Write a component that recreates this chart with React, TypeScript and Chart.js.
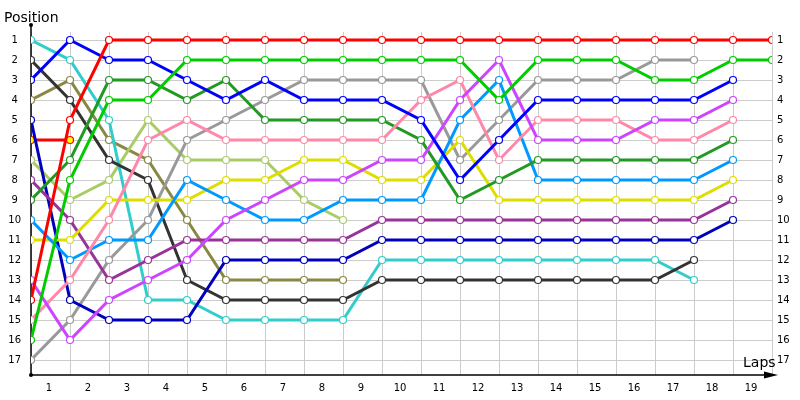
import React, { useEffect, useRef } from "react";
import { Chart, registerables } from "chart.js";

Chart.register(...registerables);

// ---- Data ----
const lapTickLabels = ["1", "2", "3", "4", "5", "6", "7", "8", "9", "10", "11", "12", "13", "14", "15", "16", "17", "18", "19"];
const positionTickLabels = ["1", "2", "3", "4", "5", "6", "7", "8", "9", "10", "11", "12", "13", "14", "15", "16", "17"];
const xTitle = "Laps";
const yTitle = "Position";

// positions per lap, starting at lap 0 (grid)
const redDriver = [14, 5, 1, 1, 1, 1, 1, 1, 1, 1, 1, 1, 1, 1, 1, 1, 1, 1, 1, 1];
const greenDriver = [16, 8, 4, 4, 2, 2, 2, 2, 2, 2, 2, 2, 4, 2, 2, 2, 3, 3, 2, 2];
const blueDriver = [3, 1, 2, 2, 3, 4, 3, 4, 4, 4, 5, 8, 6, 4, 4, 4, 4, 4, 3];
const magentaDriver = [13, 16, 14, 13, 12, 10, 9, 8, 8, 7, 7, 4, 2, 6, 6, 6, 5, 5, 4];
const pinkDriver = [15, 13, 10, 6, 5, 6, 6, 6, 6, 6, 4, 3, 7, 5, 5, 5, 6, 6, 5];
const darkGreenDriver = [9, 7, 3, 3, 4, 3, 5, 5, 5, 5, 6, 9, 8, 7, 7, 7, 7, 7, 6];
const lightBlueDriver = [10, 12, 11, 11, 8, 9, 10, 10, 9, 9, 9, 5, 3, 8, 8, 8, 8, 8, 7];
const yellowDriver = [11, 11, 9, 9, 9, 8, 8, 7, 7, 8, 8, 6, 9, 9, 9, 9, 9, 9, 8];
const purpleDriver = [8, 10, 13, 12, 11, 11, 11, 11, 11, 10, 10, 10, 10, 10, 10, 10, 10, 10, 9];
const navyDriver = [5, 14, 15, 15, 15, 12, 12, 12, 12, 11, 11, 11, 11, 11, 11, 11, 11, 11, 10];
const grayDriver = [17, 15, 12, 10, 6, 5, 4, 3, 3, 3, 3, 7, 5, 3, 3, 3, 2, 2];
const blackDriver = [2, 4, 7, 8, 13, 14, 14, 14, 14, 13, 13, 13, 13, 13, 13, 13, 13, 12];
const cyanDriver = [1, 2, 5, 14, 14, 15, 15, 15, 15, 12, 12, 12, 12, 12, 12, 12, 12, 13];
const lightGreenDriver = [7, 9, 8, 5, 7, 7, 7, 9, 10];
const oliveDriver = [4, 3, 6, 7, 10, 13, 13, 13, 13];
const retiredDriver = [6, 6];

const seriesList = [
  { name: "Red", data: redDriver, color: "#ff0000", fill: "#ffffff" },
  { name: "Green", data: greenDriver, color: "#00cc00", fill: "#ffffff" },
  { name: "Blue", data: blueDriver, color: "#0000ff", fill: "#ffffff" },
  { name: "Magenta", data: magentaDriver, color: "#cc44ff", fill: "#ffffff" },
  { name: "Pink", data: pinkDriver, color: "#ff88aa", fill: "#ffffff" },
  { name: "Dark green", data: darkGreenDriver, color: "#229922", fill: "#ffffff" },
  { name: "Light blue", data: lightBlueDriver, color: "#0099ff", fill: "#ffffff" },
  { name: "Yellow", data: yellowDriver, color: "#dddd00", fill: "#ffffff" },
  { name: "Purple", data: purpleDriver, color: "#993399", fill: "#ffffff" },
  { name: "Navy", data: navyDriver, color: "#0000bb", fill: "#ffffff" },
  { name: "Gray", data: grayDriver, color: "#999999", fill: "#ffffff" },
  { name: "Black", data: blackDriver, color: "#333333", fill: "#ffffff" },
  { name: "Cyan", data: cyanDriver, color: "#33cccc", fill: "#ffffff" },
  { name: "Light green", data: lightGreenDriver, color: "#aacc66", fill: "#ffffff" },
  { name: "Olive", data: oliveDriver, color: "#888844", fill: "#ffffff" },
  { name: "Retired", data: retiredDriver, color: "#ff0000", fill: "#ffff00" },
];

const FONT = '"DejaVu Sans", Verdana, sans-serif';

const axesDecor = {
  id: "axesDecor",
  beforeDatasetsDraw(chart: any) {
    const { ctx, chartArea } = chart;
    const { left, right, bottom } = chartArea;
    ctx.save();
    ctx.strokeStyle = "#000";
    ctx.fillStyle = "#000";
    ctx.lineWidth = 1.5;
    ctx.beginPath();
    ctx.moveTo(left, 25);
    ctx.lineTo(left, bottom);
    ctx.stroke();
    ctx.beginPath();
    ctx.moveTo(left, bottom);
    ctx.lineTo(right - 6, bottom);
    ctx.stroke();
    ctx.beginPath();
    ctx.moveTo(right + 6, bottom);
    ctx.lineTo(right - 8, bottom - 3.5);
    ctx.lineTo(right - 8, bottom + 3.5);
    ctx.closePath();
    ctx.fill();
    ctx.beginPath();
    ctx.arc(left, 25, 2, 0, Math.PI * 2);
    ctx.fill();
    ctx.beginPath();
    ctx.arc(left, bottom, 2, 0, Math.PI * 2);
    ctx.fill();
    ctx.font = "14px " + FONT;
    ctx.textAlign = "left";
    ctx.textBaseline = "alphabetic";
    ctx.fillText(yTitle, 4, 22);
    ctx.fillText(xTitle, 743, 367);
    ctx.restore();
  },
};

export default function App() {
  const canvasRef = useRef<HTMLCanvasElement | null>(null);

  useEffect(() => {
    if (!canvasRef.current) return;
    const datasets = seriesList.map((s) => ({
      label: s.name,
      data: s.data.map((v, i) => ({ x: i, y: v })),
      borderColor: s.color,
      backgroundColor: s.fill,
      pointBackgroundColor: s.fill,
      pointBorderColor: s.color,
      pointRadius: 3.5,
      pointBorderWidth: 1.2,
      borderWidth: 3,
      tension: 0,
      fill: false,
    }));

    const yCommon = {
      type: "linear" as const,
      reverse: true,
      min: 0.6,
      max: 17.75,
      afterBuildTicks: (scale: any) => {
        scale.ticks = positionTickLabels.map((_, i) => ({ value: i + 1 }));
      },
      border: { display: false },
    };

    const chart = new Chart(canvasRef.current, {
      type: "line",
      data: { datasets },
      plugins: [axesDecor],
      options: {
        responsive: false,
        animation: false,
        layout: { padding: { top: 32, left: 0, right: 0, bottom: 0 } },
        plugins: { legend: { display: false }, tooltip: { enabled: false } },
        scales: {
          x: {
            type: "linear",
            min: 0,
            max: 19,
            afterBuildTicks: (scale: any) => {
              scale.ticks = Array.from({ length: lapTickLabels.length + 1 }, (_, i) => ({ value: i }));
            },
            afterFit: (scale: any) => {
              scale.height = 25;
            },
            ticks: {
              autoSkip: false,
              maxRotation: 0,
              labelOffset: 18,
              padding: 7,
              color: "#000",
              font: { family: FONT, size: 10 },
              callback: (v: any) => (lapTickLabels[v] !== undefined ? lapTickLabels[v] : ""),
            },
            grid: { color: "#cccccc", drawTicks: false, lineWidth: 1 },
            border: { display: false },
          },
          y: {
            ...yCommon,
            position: "left",
            afterFit: (scale: any) => {
              scale.width = 31;
            },
            ticks: {
              crossAlign: "center",
              padding: 10,
              color: "#000",
              font: { family: FONT, size: 10 },
              callback: (v: any) => positionTickLabels[v - 1] ?? "",
            },
            grid: { color: "#cccccc", drawTicks: false, lineWidth: 1 },
          },
          y2: {
            ...yCommon,
            position: "right",
            afterFit: (scale: any) => {
              scale.width = 28;
            },
            ticks: {
              padding: 5,
              color: "#000",
              font: { family: FONT, size: 10 },
              callback: (v: any) => positionTickLabels[v - 1] ?? "",
            },
            grid: { display: false, drawTicks: false },
          },
        },
      } as any,
    });
    return () => chart.destroy();
  }, []);

  return (
    <div style={{ position: "fixed", left: 0, top: 0, width: 800, height: 400, background: "#fff" }}>
      <canvas ref={canvasRef} width={800} height={400} style={{ display: "block" }} />
    </div>
  );
}
